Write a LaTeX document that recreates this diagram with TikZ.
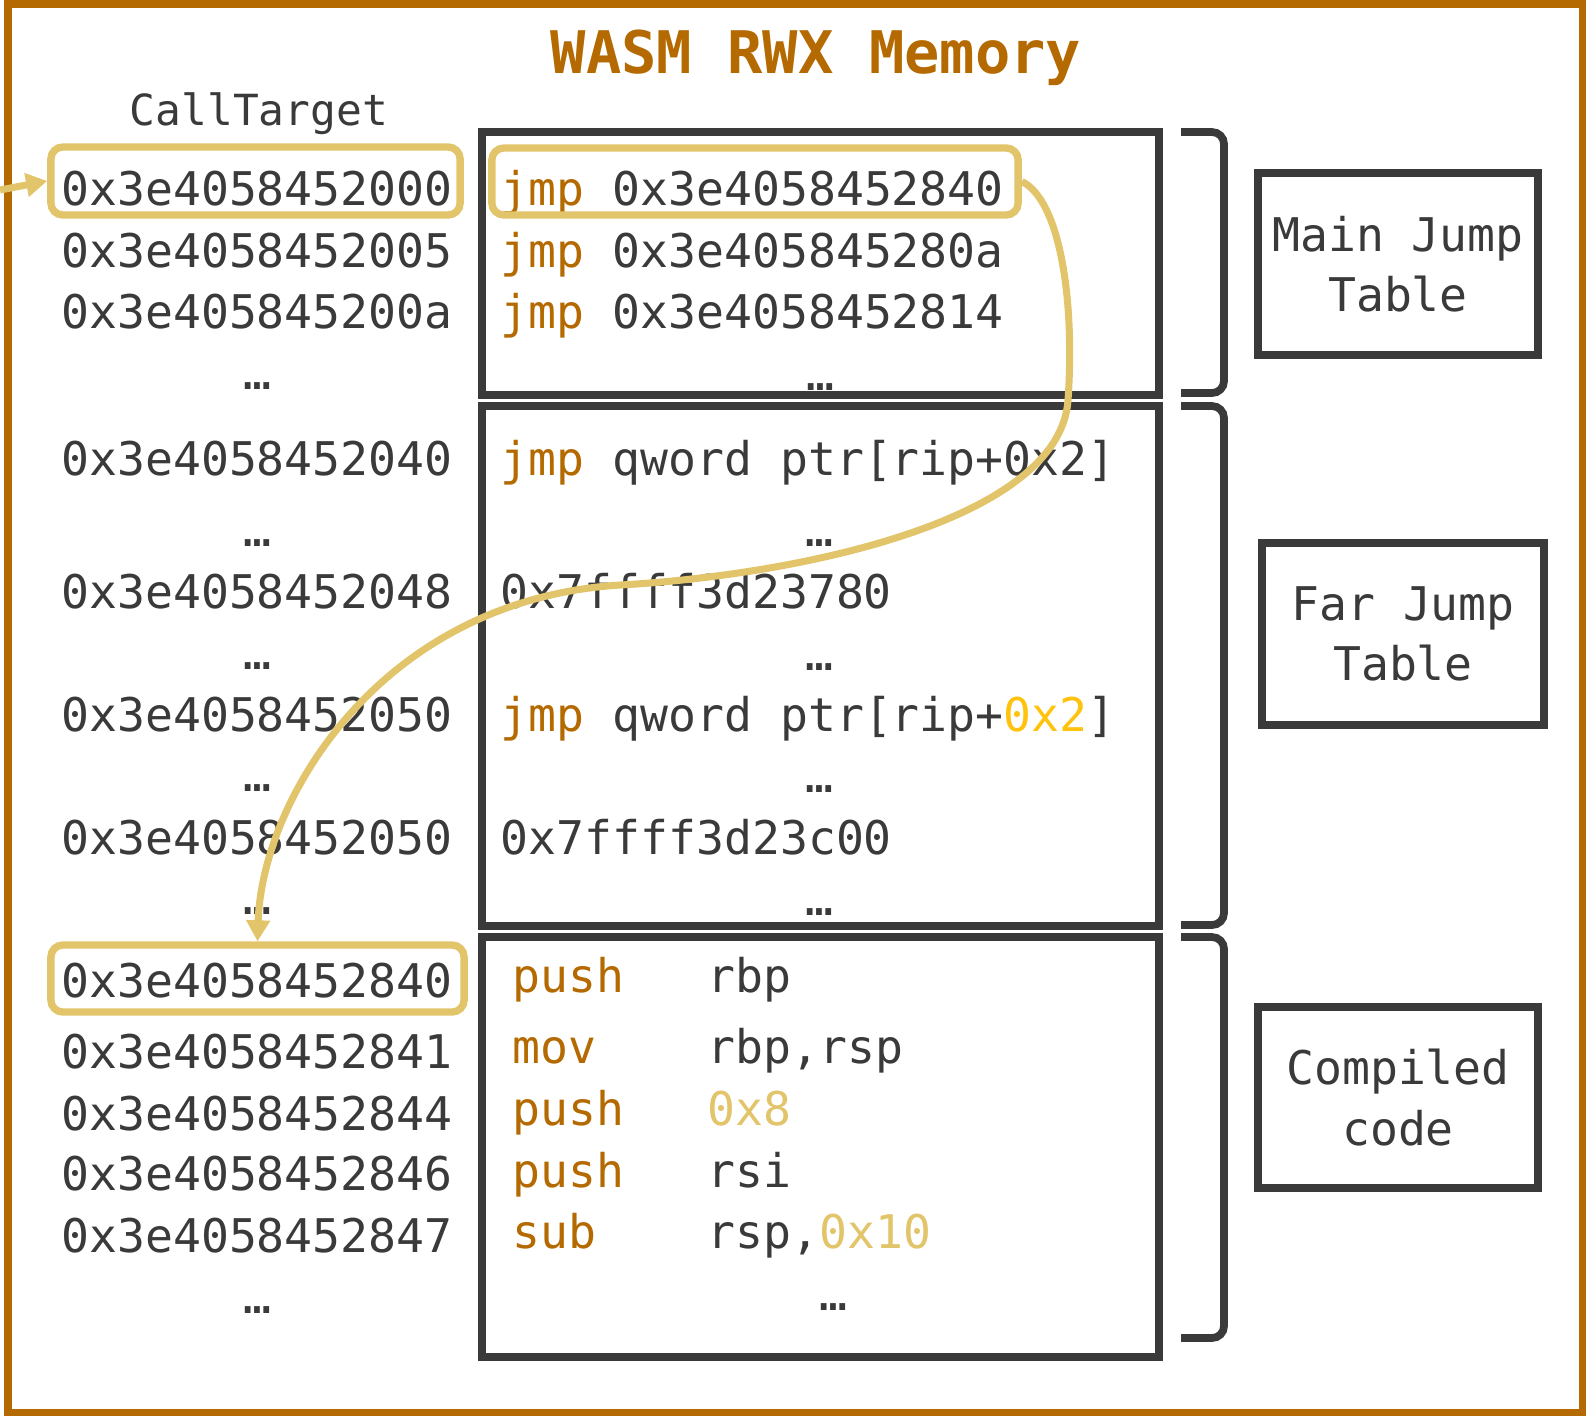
\documentclass[tikz,border=0pt]{standalone}
\usepackage{fontspec}
\setmonofont{DejaVu Sans Mono}
\usetikzlibrary{arrows.meta}
\definecolor{rwxorange}{RGB}{180,106,0}
\definecolor{inkgray}{RGB}{58,58,58}
\definecolor{hlgold}{RGB}{226,196,107}
\definecolor{immyellow}{RGB}{255,194,14}
\newcommand\opc[1]{\textcolor{rwxorange}{#1}}
\newcommand\asmln[2]{\makebox[1.95cm][l]{\opc{#1}}#2}

\begin{document}
\begin{tikzpicture}[x=0.01cm, y=-0.01cm,
  code/.style={font=\ttfamily\fontsize{13.2}{16}\selectfont, text=inkgray, inner sep=0pt},
  addr/.style={code, anchor=base},
  instr/.style={code, anchor=base west},
  membox/.style={draw=inkgray, line width=2.2pt, minimum width=6.77cm},
  tag/.style={code, draw=inkgray, line width=2.2pt, align=center,
    minimum width=2.8cm, minimum height=1.82cm,
    font=\ttfamily\fontsize{13.2}{17.1}\selectfont},
  hlbox/.style={draw=hlgold, line width=2.1pt, rounded corners=0.12cm},
  brk/.style={draw=inkgray, line width=2.2pt, rounded corners=0.12cm},
  jumpto/.style={draw=hlgold, line width=2pt, -{Triangle[length=0.21cm, width=0.23cm]}}]
  % canvas in pixels, y grows downwards
  \useasboundingbox (0,0) rectangle (1586,1417);
  \draw[rwxorange, line width=2pt] (8,4) rectangle (1582,1412);

  % title
  \node[font=\ttfamily\bfseries\fontsize{16.7}{20}\selectfont, text=rwxorange, anchor=base] (title) at (816,73) {WASM RWX Memory};
  \node[code, anchor=base, font=\ttfamily\fontsize{12.2}{15}\selectfont] (calltgt) at (259,125) {CallTarget};

  % memory regions
  \node[membox, minimum height=2.63cm] (mainbox) at (820.5,263.5) {};
  \node[membox, minimum height=5.20cm] (farbox) at (820.5,666) {};
  \node[membox, minimum height=4.20cm] (codebox) at (820.5,1147) {};

  % --- left column: addresses ---
  \node[addr] (a2000) at (257,205) {0x3e4058452000};
  \node[addr] (a2005) at (257,267) {0x3e4058452005};
  \node[addr] (a200a) at (257,328) {0x3e405845200a};
  \node[addr] (ad1) at (257,389) {…};
  \node[addr] (a2040) at (257,475) {0x3e4058452040};
  \node[addr] (ad2) at (257,546) {…};
  \node[addr] (a2048) at (257,608) {0x3e4058452048};
  \node[addr] (ad3) at (257,669) {…};
  \node[addr] (a2050) at (257,731) {0x3e4058452050};
  \node[addr] (ad4) at (257,791) {…};
  \node[addr] (a2050b) at (257,854) {0x3e4058452050};
  \node[addr] (ad5) at (257,914) {…};
  \node[addr] (a2840) at (257,997) {0x3e4058452840};
  \node[addr] (a2841) at (257,1068) {0x3e4058452841};
  \node[addr] (a2844) at (257,1130) {0x3e4058452844};
  \node[addr] (a2846) at (257,1190) {0x3e4058452846};
  \node[addr] (a2847) at (257,1252) {0x3e4058452847};
  \node[addr] (ad6) at (257,1313) {…};

  % --- main jump table ---
  \node[instr] (j1) at (500,205) {\opc{jmp} 0x3e4058452840};
  \node[instr] (j2) at (500,267) {\opc{jmp} 0x3e405845280a};
  \node[instr] (j3) at (500,328) {\opc{jmp} 0x3e4058452814};
  \node[addr] (jd) at (820,390) {…};

  % --- far jump table ---
  \node[instr] (f1) at (500,475) {\opc{jmp} qword ptr[rip+0x2]};
  \node[addr] (fd1) at (819,546) {…};
  \node[instr] (f2) at (500,608) {0x7ffff3d23780};
  \node[addr] (fd2) at (819,670) {…};
  \node[instr] (f3) at (500,731) {\opc{jmp} qword ptr[rip+\textcolor{immyellow}{0x2}]};
  \node[addr] (fd3) at (819,792) {…};
  \node[instr] (f4) at (500,854) {0x7ffff3d23c00};
  \node[addr] (fd4) at (819,915) {…};

  % --- compiled code ---
  \node[instr] (c1) at (512,992) {\asmln{push}{rbp}};
  \node[instr] (c2) at (512,1063) {\asmln{mov}{rbp,rsp}};
  \node[instr] (c3) at (512,1125) {\asmln{push}{\textcolor{hlgold}{0x8}}};
  \node[instr] (c4) at (512,1187) {\asmln{push}{rsi}};
  \node[instr] (c5) at (512,1248) {\asmln{sub}{rsp,\textcolor{hlgold}{0x10}}};
  \node[addr] (cd) at (833,1310) {…};

  % brackets and region tags
  \draw[brk] (1181,132) -- (1224,132) -- (1224,393) -- (1181,393);
  \draw[brk] (1181,406) -- (1224,406) -- (1224,925) -- (1181,925);
  \draw[brk] (1181,937) -- (1224,937) -- (1224,1338) -- (1181,1338);
  \node[tag] (maintag) at (1398,264) {Main Jump\\Table};
  \node[tag, minimum width=2.82cm] (fartag) at (1403,634) {Far Jump\\Table};
  \node[tag, minimum height=1.81cm, font=\ttfamily\fontsize{13.2}{17.6}\selectfont] (codetag) at (1398,1097.5) {Compiled\\code};

  % highlighted entries
  \node[hlbox, minimum width=4.09cm, minimum height=0.68cm] (hlcall) at (255.5,181) {};
  \node[hlbox, minimum width=5.26cm, minimum height=0.67cm] (hljmp) at (755,181.5) {};
  \node[hlbox, minimum width=4.13cm, minimum height=0.67cm] (hltgt) at (257.5,978.5) {};

  % call flow
  \coordinate (callsrc) at (0,190);
  \draw[jumpto] (callsrc) -- (hlcall.west);
  \draw[jumpto] (hljmp.east) .. controls (1060,200) and (1075,300) .. (1068,400)
    .. controls (1060,520) and (800,575) .. (620,585)
    .. controls (380,600) and (262,800) .. (hltgt.north);
\end{tikzpicture}
\end{document}
